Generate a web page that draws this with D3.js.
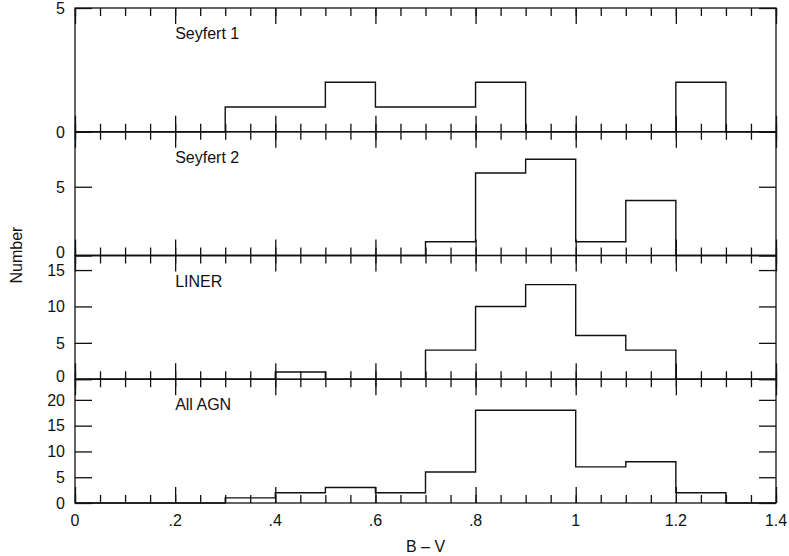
<!DOCTYPE html>
<html>
<head>
<meta charset="utf-8">
<script src="https://cdn.jsdelivr.net/npm/d3@7"></script>
<style>
  html, body { margin: 0; padding: 0; background: #fff; }
  svg { display: block; font-family: "Liberation Sans", Arial, Helvetica, sans-serif; }
  .tick-label { font-size: 16px; fill: #111; }
  .panel-label { font-size: 16px; fill: #111; }
  .axis-title { font-size: 16px; fill: #111; }
</style>
</head>
<body>
<div id="chart"></div>
<script>
// Bins of B - V, width 0.1, from 0 to 1.4
const binStarts = [0, 0.1, 0.2, 0.3, 0.4, 0.5, 0.6, 0.7, 0.8, 0.9, 1.0, 1.1, 1.2, 1.3];
const binWidth = 0.1;

// Counts per bin
const seyfert1 = [0, 0, 0, 1, 1, 2, 1, 1, 2, 0, 0, 0, 2, 0];
const seyfert2 = [0, 0, 0, 0, 0, 0, 0, 1, 6, 7, 1, 4, 0, 0];
const liner    = [0, 0, 0, 0, 1, 0, 0, 4, 10, 13, 6, 4, 0, 0];
const allAgn   = [0, 0, 0, 1, 2, 3, 2, 6, 18, 18, 7, 8, 2, 0];

const panelNames = ["Seyfert 1", "Seyfert 2", "LINER", "All AGN"];
const panelMax = [5, 9, 17, 24];
const panelTicks = [[0, 5], [0, 5], [0, 5, 10, 15], [0, 5, 10, 15, 20]];

const xMajorTicks = [0, 0.2, 0.4, 0.6, 0.8, 1.0, 1.2, 1.4];
const xTickLabels = ["0", ".2", ".4", ".6", ".8", "1", "1.2", "1.4"];
const xMinorTicks = d3.range(0, 29).map(i => i * 0.05);

const W = 789, H = 556;
const margin = { left: 75, right: 776, top: 8, bottom: 503 };
const panelH = (margin.bottom - margin.top) / 4;

const svg = d3.select('#chart')
    .append('svg')
    .attr('width', W)
    .attr('height', H);

const x = d3.scaleLinear().domain([0, 1.4]).range([margin.left, margin.right]);

const series = [seyfert1, seyfert2, liner, allAgn];
const ink = '#111';

series.forEach((counts, p) => {
    const y0 = margin.top + p * panelH;
    const y1 = y0 + panelH;
    const y = d3.scaleLinear().domain([0, panelMax[p]]).range([y1, y0]);
    const g = svg.append('g');

    // frame
    g.append('rect')
        .attr('x', margin.left).attr('y', y0)
        .attr('width', margin.right - margin.left).attr('height', panelH)
        .attr('fill', 'none').attr('stroke', ink).attr('stroke-width', 1.3);

    // x ticks, inward on top and bottom edges
    const tickSets = [{ vals: xMinorTicks, len: 8 }, { vals: xMajorTicks, len: 16 }];
    tickSets.forEach(t => {
        g.append('g')
            .attr('transform', `translate(0,${y1})`)
            .call(d3.axisBottom(x).tickValues(t.vals).tickSize(-t.len).tickFormat(''))
            .call(s => s.select('.domain').remove())
            .selectAll('line').attr('stroke', ink).attr('stroke-width', 1.3);
        g.append('g')
            .attr('transform', `translate(0,${y0})`)
            .call(d3.axisTop(x).tickValues(t.vals).tickSize(-t.len).tickFormat(''))
            .call(s => s.select('.domain').remove())
            .selectAll('line').attr('stroke', ink).attr('stroke-width', 1.3);
    });

    // y ticks, inward on left and right edges
    g.append('g')
        .attr('transform', `translate(${margin.left},0)`)
        .call(d3.axisLeft(y).tickValues(panelTicks[p]).tickSize(-17).tickFormat(''))
        .call(s => s.select('.domain').remove())
        .selectAll('line').attr('stroke', ink).attr('stroke-width', 1.3);
    g.append('g')
        .attr('transform', `translate(${margin.right},0)`)
        .call(d3.axisRight(y).tickValues(panelTicks[p]).tickSize(-17).tickFormat(''))
        .call(s => s.select('.domain').remove())
        .selectAll('line').attr('stroke', ink).attr('stroke-width', 1.3);

    // y tick labels (the zero of a panel sits a little higher so it clears the next panel's top label)
    g.selectAll('.ylab')
        .data(panelTicks[p])
        .enter().append('text')
        .attr('class', 'tick-label')
        .attr('x', margin.left - 10)
        .attr('y', d => y(d) - (d === 0 && p > 0 && p < 3 ? 3 : 0))
        .attr('dy', '0.36em')
        .attr('text-anchor', 'end')
        .text(d => d);

    // histogram outline as steps
    const pts = [[x(0), y(0)]];
    binStarts.forEach((b, i) => {
        pts.push([x(b), y(counts[i])]);
        pts.push([x(b + binWidth), y(counts[i])]);
    });
    pts.push([x(1.4), y(0)]);
    g.append('path')
        .attr('d', d3.line()(pts))
        .attr('fill', 'none')
        .attr('stroke', ink)
        .attr('stroke-width', 1.4);

    // panel label
    g.append('text')
        .attr('class', 'panel-label')
        .attr('x', x(0.2))
        .attr('y', y0 + 31)
        .text(panelNames[p]);
});

// x tick labels
svg.selectAll('.xlab')
    .data(xMajorTicks)
    .enter().append('text')
    .attr('class', 'tick-label')
    .attr('x', d => x(d))
    .attr('y', 526)
    .attr('text-anchor', 'middle')
    .text((d, i) => xTickLabels[i]);

// axis titles
svg.append('text')
    .attr('class', 'axis-title')
    .attr('x', x(0.7))
    .attr('y', 552)
    .attr('text-anchor', 'middle')
    .text('B \u2013 V');

svg.append('text')
    .attr('class', 'axis-title')
    .attr('transform', 'rotate(-90)')
    .attr('x', -255)
    .attr('y', 22)
    .attr('text-anchor', 'middle')
    .text('Number');
</script>
</body>
</html>
